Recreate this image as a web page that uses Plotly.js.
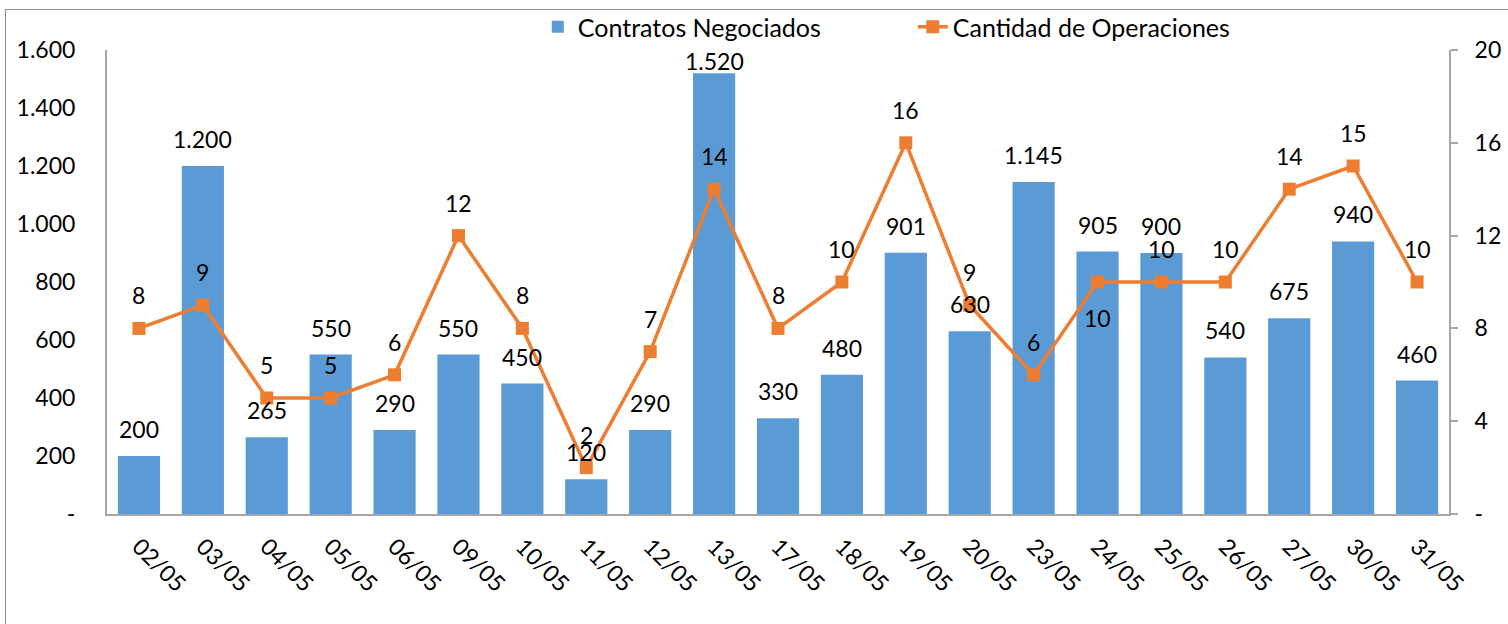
<!DOCTYPE html>
<html>
<head>
<meta charset="utf-8">
<script src="https://cdn.plot.ly/plotly-3.0.1.min.js"></script>
<style>
  html, body { margin: 0; padding: 0; width: 1508px; height: 624px; overflow: hidden; background: #fff; }
  #chart { position: absolute; left: 0; top: 0; width: 1508px; height: 624px; }
  #frame { position: absolute; left: 5px; top: 9px; width: 1700px; height: 800px; border: 1.5px solid #8c8c8c; pointer-events: none; }
</style>
</head>
<body>
<div id="chart"></div>
<div id="frame"></div>
<script>
const fechas = ['02/05','03/05','04/05','05/05','06/05','09/05','10/05','11/05','12/05','13/05','17/05','18/05','19/05','20/05','23/05','24/05','25/05','26/05','27/05','30/05','31/05'];
const contratos = [200,1200,265,550,290,550,450,120,290,1520,330,480,901,630,1145,905,900,540,675,940,460];
const operaciones = [8,9,5,5,6,12,8,2,7,14,8,10,16,9,6,10,10,10,14,15,10];
const leftTicks = [0,200,400,600,800,1000,1200,1400,1600];
const leftTickText = ['-','200','400','600','800','1.000','1.200','1.400','1.600'];
const rightTicks = [0,4,8,12,16,20];
const rightTickText = ['-','4','8','12','16','20'];
const opLabelsBelow = ['24/05'];

const FONT = 'Lato, "Open Sans", sans-serif';
const FS = 23;
const PLOT_H = 624 - 50 - 110;
const fmt = v => String(v).replace(/\B(?=(\d{3})+(?!\d))/g, '.');

const bars = {
  type: 'bar', name: 'Contratos Negociados', x: fechas, y: contratos,
  marker: { color: '#5B9BD5' }, yaxis: 'y'
};
const line = {
  type: 'scatter', mode: 'lines+markers', name: 'Cantidad de Operaciones',
  x: fechas, y: operaciones, yaxis: 'y2',
  line: { color: '#ED7D31', width: 3.5 },
  marker: { color: '#ED7D31', symbol: 'square', size: 13 }
};

const annotations = [];
fechas.forEach((f, i) => {
  // keep bar labels inside the plot area (as the original does)
  const room = (1600 - contratos[i]) / 1600 * PLOT_H - 11;
  annotations.push({ x: f, y: contratos[i], xref: 'x', yref: 'y', text: fmt(contratos[i]),
    showarrow: false, yanchor: 'middle', yshift: Math.min(27, room), font: { family: FONT, size: FS, color: '#000' } });
  const below = opLabelsBelow.includes(f);
  annotations.push({ x: f, y: operaciones[i], xref: 'x', yref: 'y2', text: String(operaciones[i]),
    showarrow: false, yanchor: 'middle', yshift: below ? -36 : 33, font: { family: FONT, size: FS, color: '#000' } });
});

const layout = {
  width: 1508, height: 624,
  margin: { l: 107, r: 59, t: 50, b: 110, autoexpand: false },
  paper_bgcolor: 'rgba(0,0,0,0)', plot_bgcolor: 'rgba(0,0,0,0)',
  font: { family: FONT, size: FS, color: '#000' },
  bargap: 0.34,
  showlegend: true,
  legend: { orientation: 'h', x: 0.321, xanchor: 'left', yref: 'container', y: 1 - 27 / 624, yanchor: 'middle',
    entrywidth: 330, entrywidthmode: 'pixels',
    font: { family: FONT, size: 25, color: '#000' }, traceorder: 'normal' },
  xaxis: {
    type: 'category', range: [-0.5, fechas.length - 0.5], autorange: false,
    showline: true, linecolor: '#a6a6a6', linewidth: 2,
    ticks: '', tickangle: 45, showgrid: false, zeroline: false,
    tickfont: { family: FONT, size: FS, color: '#000' }, ticklabelstandoff: 8
  },
  yaxis: {
    range: [0, 1600], tickvals: leftTicks, ticktext: leftTickText,
    showline: true, linecolor: '#a6a6a6', linewidth: 2, ticks: '',
    showgrid: false, zeroline: false, ticklabelstandoff: 25,
    tickfont: { family: FONT, size: FS, color: '#000' }
  },
  yaxis2: {
    range: [0, 20], overlaying: 'y', side: 'right', tickvals: rightTicks, ticktext: rightTickText,
    showline: true, linecolor: '#a6a6a6', linewidth: 2, ticks: 'outside', ticklen: 7, tickcolor: '#a6a6a6', tickwidth: 2,
    showgrid: false, zeroline: false, ticklabelstandoff: 12,
    tickfont: { family: FONT, size: FS, color: '#000' }
  },
  annotations: annotations
};

Plotly.newPlot('chart', [bars, line], layout, { displayModeBar: false, staticPlot: true });
</script>
</body>
</html>
